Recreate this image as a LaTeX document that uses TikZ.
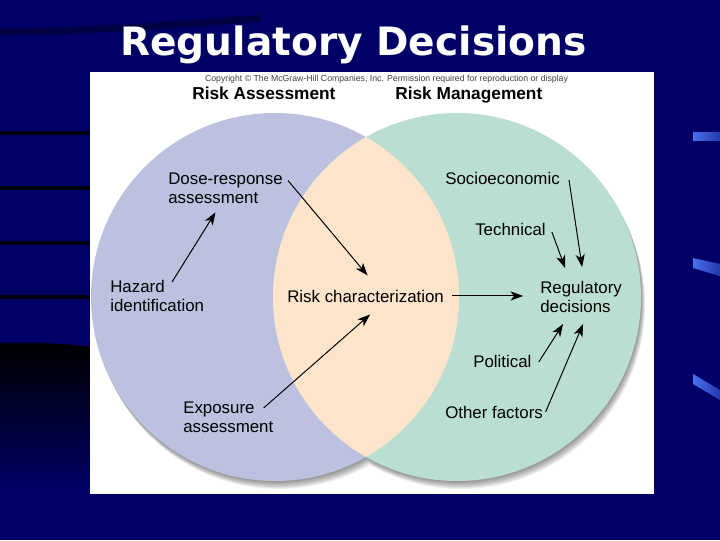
\documentclass[tikz,border=0pt]{standalone}
\usepackage{fontspec}
\setmainfont{Liberation Sans}
\newfontfamily\titlefont{DejaVu Sans}
\usetikzlibrary{arrows.meta}
\definecolor{SlideNavy}{RGB}{0,0,102}
\definecolor{SlideStreak}{RGB}{72,112,240}
\definecolor{AssessLilac}{RGB}{187,193,222}
\definecolor{ManageMint}{RGB}{186,223,210}
\definecolor{OverlapPeach}{RGB}{253,228,202}

\begin{document}
\begin{tikzpicture}[>={Stealth[length=9pt,width=6.5pt,inset=2.5pt]},x=0.025cm,y=-0.025cm,
  txt/.style={font=\fontsize{12}{13.5}\selectfont,align=left,anchor=north west,inner sep=0pt},
  head/.style={font=\fontsize{12.3}{14}\selectfont\bfseries,anchor=north west,inner sep=0pt},
  arr/.style={->,line width=0.7pt}]
\useasboundingbox (0,0) rectangle (720,540);
\fill[SlideNavy] (0,0) rectangle (720,540);
\draw[black,opacity=0.35,line width=5] (0,32) .. controls (80,31) and (160,27) .. (260,18);
\foreach \y in {133,188,243,297}
  \fill[black,opacity=0.85] (0,\y-2) rectangle (92,\y+2);
\shade[top color=black,bottom color=SlideNavy] (0,343) .. controls (40,342) and (70,344) .. (92,347) -- (92,490) -- (0,490) -- cycle;
\shade[left color=SlideStreak,right color=SlideStreak!50!SlideNavy] (693,132) rectangle (720,140);
\shade[left color=SlideStreak,right color=SlideStreak!50!SlideNavy] (693,258) -- (720,264) -- (720,276) -- (693,268) -- cycle;
\shade[left color=SlideStreak,right color=SlideStreak!50!SlideNavy] (693,374) -- (720,390) -- (720,400) -- (693,384) -- cycle;

\node (title) [font=\titlefont\bfseries\fontsize{27.8}{30}\selectfont,text=white,anchor=base] at (353.5,55) {Regulatory Decisions};

\fill[white] (90,72) rectangle (654,494);
\node (copy) [font=\fontsize{6.2}{7}\selectfont,text=black!75,anchor=base,inner sep=0pt] at (386.5,81)
  {Copyright \textcopyright{} The McGraw-Hill Companies, Inc. Permission required for reproduction or display};
\node (assess) [head] at (192,87) {Risk Assessment};
\node (manage) [head] at (395,87) {Risk Management};

\foreach \s in {1,...,8}
  \fill[black,opacity=0.06] (275+0.5*\s,297+\s) circle (184) (457+0.5*\s,297+\s) circle (184);
\fill[AssessLilac] (275,297) circle (184);
\fill[ManageMint] (457,297) circle (184);
\begin{scope}
  \clip (275,297) circle (184);
  \fill[OverlapPeach] (457,297) circle (184);
\end{scope}

\node (dose) [txt] at (168,172.5) {Dose-response\\assessment};
\node (haz) [txt] at (110,280) {Hazard\\identification};
\node (expo) [txt] at (183,402) {Exposure\\assessment};
\node (riskchar) [txt] at (287,289.5) {Risk characterization};
\node (socio) [txt] at (445,171.5) {Socioeconomic};
\node (tech) [txt] at (475,223) {Technical};
\node (reg) [txt] at (540,281) {Regulatory\\decisions};
\node (pol) [txt] at (473,355) {Political};
\node (other) [txt] at (445,406) {Other factors};

\draw[arr] ([shift={(62,2)}]haz.north west) -- ([shift={(-10,8.5)}]dose.south);
\draw[arr] ([shift={(5,8)}]dose.north east) -- ([shift={(2,-14)}]riskchar.north);
\draw[arr] ([shift={(-10,6)}]expo.north east) -- ([shift={(4.5,12)}]riskchar.south);
\draw[arr,shorten <=5.7pt,shorten >=12pt] (riskchar.east) -- (riskchar.east -| reg.west);
\draw[arr] ([shift={(9,8.5)}]socio.north east) -- ([shift={(1,-14)}]reg.north);
\draw[arr] ([shift={(6,9)}]tech.north east) -- ([shift={(-16,-13)}]reg.north);
\draw[arr] ([shift={(7,7)}]pol.north east) -- ([shift={(-18,11)}]reg.south);
\draw[arr] ([shift={(2.5,6)}]other.north east) -- ([shift={(2,11)}]reg.south);
\end{tikzpicture}
\end{document}
